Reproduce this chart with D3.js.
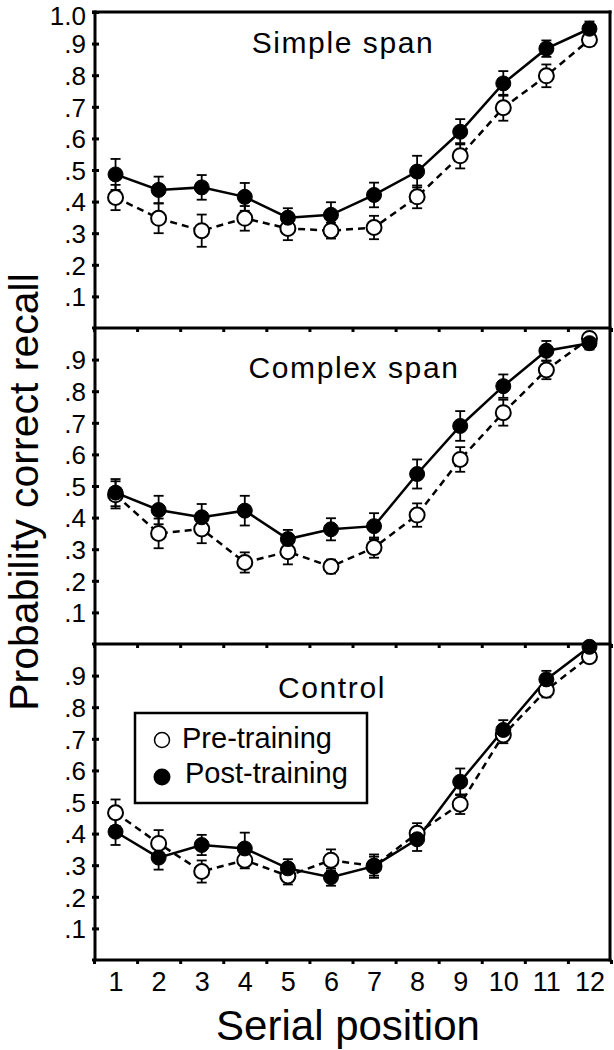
<!DOCTYPE html>
<html>
<head>
<meta charset="utf-8">
<script src="https://cdn.jsdelivr.net/npm/d3@7"></script>
<style>
  html, body { margin: 0; padding: 0; background: #fff; }
  svg { display: block; }
  text { font-family: "Liberation Sans", Arial, Helvetica, sans-serif; fill: #000; }
</style>
</head>
<body>
<svg id="chart" width="614" height="1050"></svg>
<script>
// ---------- data ----------
const positions = [1, 2, 3, 4, 5, 6, 7, 8, 9, 10, 11, 12];
const xTickLabels = ["1", "2", "3", "4", "5", "6", "7", "8", "9", "10", "11", "12"];
const yTickValues = [0.1, 0.2, 0.3, 0.4, 0.5, 0.6, 0.7, 0.8, 0.9];
const yTickLabels = [".1", ".2", ".3", ".4", ".5", ".6", ".7", ".8", ".9"];
const yTopTickValue = 1.0;
const yTopTickLabel = "1.0";
const panelTitles = ["Simple span", "Complex span", "Control"];
const seriesNames = ["Pre-training", "Post-training"];
const xAxisTitle = "Serial position";
const yAxisTitle = "Probability correct recall";

const simplePre     = [0.413, 0.347, 0.308, 0.347, 0.315, 0.308, 0.318, 0.415, 0.545, 0.697, 0.798, 0.912];
const simplePreErr  = [0.040, 0.047, 0.051, 0.039, 0.037, 0.025, 0.037, 0.036, 0.040, 0.041, 0.036, 0.020];
const simplePost    = [0.486, 0.437, 0.445, 0.415, 0.349, 0.358, 0.421, 0.495, 0.621, 0.774, 0.884, 0.947];
const simplePostErr = [0.049, 0.042, 0.039, 0.044, 0.030, 0.040, 0.039, 0.050, 0.040, 0.039, 0.026, 0.023];

const complexPre     = [0.472, 0.350, 0.364, 0.258, 0.292, 0.245, 0.305, 0.408, 0.584, 0.732, 0.867, 0.967];
const complexPreErr  = [0.043, 0.047, 0.045, 0.032, 0.040, 0.022, 0.032, 0.037, 0.039, 0.041, 0.029, 0.015];
const complexPost    = [0.479, 0.424, 0.401, 0.422, 0.332, 0.363, 0.373, 0.538, 0.690, 0.816, 0.928, 0.952];
const complexPostErr = [0.043, 0.045, 0.042, 0.047, 0.029, 0.035, 0.041, 0.046, 0.047, 0.037, 0.031, 0.020];

const controlPre     = [0.466, 0.369, 0.280, 0.316, 0.266, 0.316, 0.297, 0.401, 0.493, 0.712, 0.854, 0.960];
const controlPreErr  = [0.042, 0.042, 0.035, 0.026, 0.027, 0.034, 0.030, 0.032, 0.031, 0.026, 0.023, 0.015];
const controlPost    = [0.406, 0.324, 0.364, 0.353, 0.290, 0.262, 0.297, 0.382, 0.564, 0.728, 0.888, 0.991];
const controlPostErr = [0.042, 0.038, 0.032, 0.050, 0.029, 0.027, 0.037, 0.037, 0.042, 0.031, 0.027, 0.015];

// ---------- layout ----------
const svg = d3.select("#chart");
const left = 95, right = 610;
const panelTop0 = 12, panelH = 316;
const font = '"Liberation Sans", Arial, Helvetica, sans-serif';

const x = d3.scaleLinear().domain([0.5, 12.5]).range([94, 611]);
const boundaries = d3.range(0.5, 12.51, 1);

const panels = [
  { title: panelTitles[0], pre: simplePre, preErr: simplePreErr, post: simplePost, postErr: simplePostErr,
    titleX: 343, titleDy: 41, topLabel: true },
  { title: panelTitles[1], pre: complexPre, preErr: complexPreErr, post: complexPost, postErr: complexPostErr,
    titleX: 354, titleDy: 50, topLabel: false },
  { title: panelTitles[2], pre: controlPre, preErr: controlPreErr, post: controlPost, postErr: controlPostErr,
    titleX: 332, titleDy: 54, topLabel: false, legend: true, xLabels: true }
];

panels.forEach((p, pi) => {
  const top = panelTop0 + pi * panelH;
  const y = d3.scaleLinear().domain([0, 1]).range([top + panelH, top]);
  const g = svg.append("g");

  // Y axis labels + ticks
  const tv = p.topLabel ? yTickValues.concat([yTopTickValue]) : yTickValues;
  const tl = p.topLabel ? yTickLabels.concat([yTopTickLabel]) : yTickLabels;
  const yAxis = d3.axisLeft(y).tickValues(tv).tickFormat((d, i) => tl[i])
    .tickSizeInner(4).tickSizeOuter(0).tickPadding(5);
  const ya = g.append("g").attr("transform", `translate(${left},0)`).call(yAxis);
  ya.select(".domain").remove();
  ya.selectAll(".tick line").attr("x1", 4).attr("x2", -3).attr("stroke", "#000").attr("stroke-width", 3);
  ya.selectAll(".tick text").attr("font-size", 26).attr("font-family", font).attr("fill", "#000")
    .attr("dy", d => d >= 1 ? "0.48em" : "0.36em");

  // X boundary ticks below panel bottom
  const xTickAxis = d3.axisBottom(x).tickValues(boundaries).tickFormat("").tickSizeInner(4).tickSizeOuter(0);
  const xa = g.append("g").attr("transform", `translate(0,${top + panelH})`).call(xTickAxis);
  xa.select(".domain").remove();
  xa.selectAll(".tick line").attr("stroke", "#000").attr("stroke-width", 3);

  if (p.xLabels) {
    const xLabAxis = d3.axisBottom(x).tickValues(positions).tickFormat((d, i) => xTickLabels[i])
      .tickSize(0).tickPadding(12);
    const xl = g.append("g").attr("transform", `translate(0,${top + panelH})`).call(xLabAxis);
    xl.select(".domain").remove();
    xl.selectAll(".tick text").attr("font-size", 27).attr("font-family", font).attr("fill", "#000");
  }

  // panel bottom line
  g.append("line").attr("x1", left - 3).attr("x2", right + 1.5)
    .attr("y1", top + panelH).attr("y2", top + panelH)
    .attr("stroke", "#000").attr("stroke-width", 3);

  // title
  g.append("text").attr("x", p.titleX).attr("y", top + p.titleDy)
    .attr("text-anchor", "middle").attr("font-size", 30).attr("letter-spacing", "1.6px")
    .text(p.title);

  const line = d3.line().x((d, i) => x(positions[i])).y(d => y(d));

  // lines
  g.append("path").datum(p.pre).attr("d", line).attr("fill", "none")
    .attr("stroke", "#000").attr("stroke-width", 2.5).attr("stroke-dasharray", "7,5");
  g.append("path").datum(p.post).attr("d", line).attr("fill", "none")
    .attr("stroke", "#000").attr("stroke-width", 2.5);

  // error bars
  const cap = 5;
  [[p.pre, p.preErr], [p.post, p.postErr]].forEach(([vals, errs]) => {
    const eb = g.append("g").attr("stroke", "#000").attr("stroke-width", 1.8).attr("fill", "none");
    vals.forEach((v, i) => {
      const cx = x(positions[i]);
      const y1 = y(v + errs[i]), y2 = y(v - errs[i]);
      eb.append("line").attr("x1", cx).attr("x2", cx).attr("y1", y1).attr("y2", y2);
      eb.append("line").attr("x1", cx - cap).attr("x2", cx + cap).attr("y1", y1).attr("y2", y1);
      eb.append("line").attr("x1", cx - cap).attr("x2", cx + cap).attr("y1", y2).attr("y2", y2);
    });
  });

  // markers
  g.append("g").selectAll("circle").data(p.pre).join("circle")
    .attr("cx", (d, i) => x(positions[i])).attr("cy", d => y(d)).attr("r", 7.5)
    .attr("fill", "#fff").attr("stroke", "#000").attr("stroke-width", 2);
  g.append("g").selectAll("circle").data(p.post).join("circle")
    .attr("cx", (d, i) => x(positions[i])).attr("cy", d => y(d)).attr("r", 7.5)
    .attr("fill", "#000").attr("stroke", "#000").attr("stroke-width", 1);

  if (p.legend) {
    const lg = g.append("g");
    lg.append("rect").attr("x", 135).attr("y", 713).attr("width", 232).attr("height", 90)
      .attr("fill", "#fff").attr("stroke", "#000").attr("stroke-width", 2.5);
    lg.append("circle").attr("cx", 162).attr("cy", 740).attr("r", 7.5)
      .attr("fill", "#fff").attr("stroke", "#000").attr("stroke-width", 1.5);
    lg.append("circle").attr("cx", 162).attr("cy", 777).attr("r", 8.5).attr("fill", "#000");
    lg.append("text").attr("x", 182).attr("y", 748).attr("font-size", 29).text(seriesNames[0]);
    lg.append("text").attr("x", 185).attr("y", 783).attr("font-size", 29).text(seriesNames[1]);
  }
});

// outer frame: left, top, right
const frameBottom = panelTop0 + 3 * panelH;
svg.append("line").attr("x1", left).attr("x2", left).attr("y1", panelTop0 - 1.5).attr("y2", frameBottom + 1.5)
  .attr("stroke", "#000").attr("stroke-width", 3);
svg.append("line").attr("x1", right).attr("x2", right).attr("y1", panelTop0 - 1.5).attr("y2", frameBottom + 1.5)
  .attr("stroke", "#000").attr("stroke-width", 3);
svg.append("line").attr("x1", left - 3).attr("x2", right + 1.5).attr("y1", panelTop0).attr("y2", panelTop0)
  .attr("stroke", "#000").attr("stroke-width", 3);

// axis titles
svg.append("text").attr("x", 348).attr("y", 1040).attr("text-anchor", "middle")
  .attr("font-size", 42).text(xAxisTitle);
svg.append("text").attr("transform", "translate(38,492) rotate(-90)").attr("text-anchor", "middle")
  .attr("font-size", 41).text(yAxisTitle);
</script>
</body>
</html>
